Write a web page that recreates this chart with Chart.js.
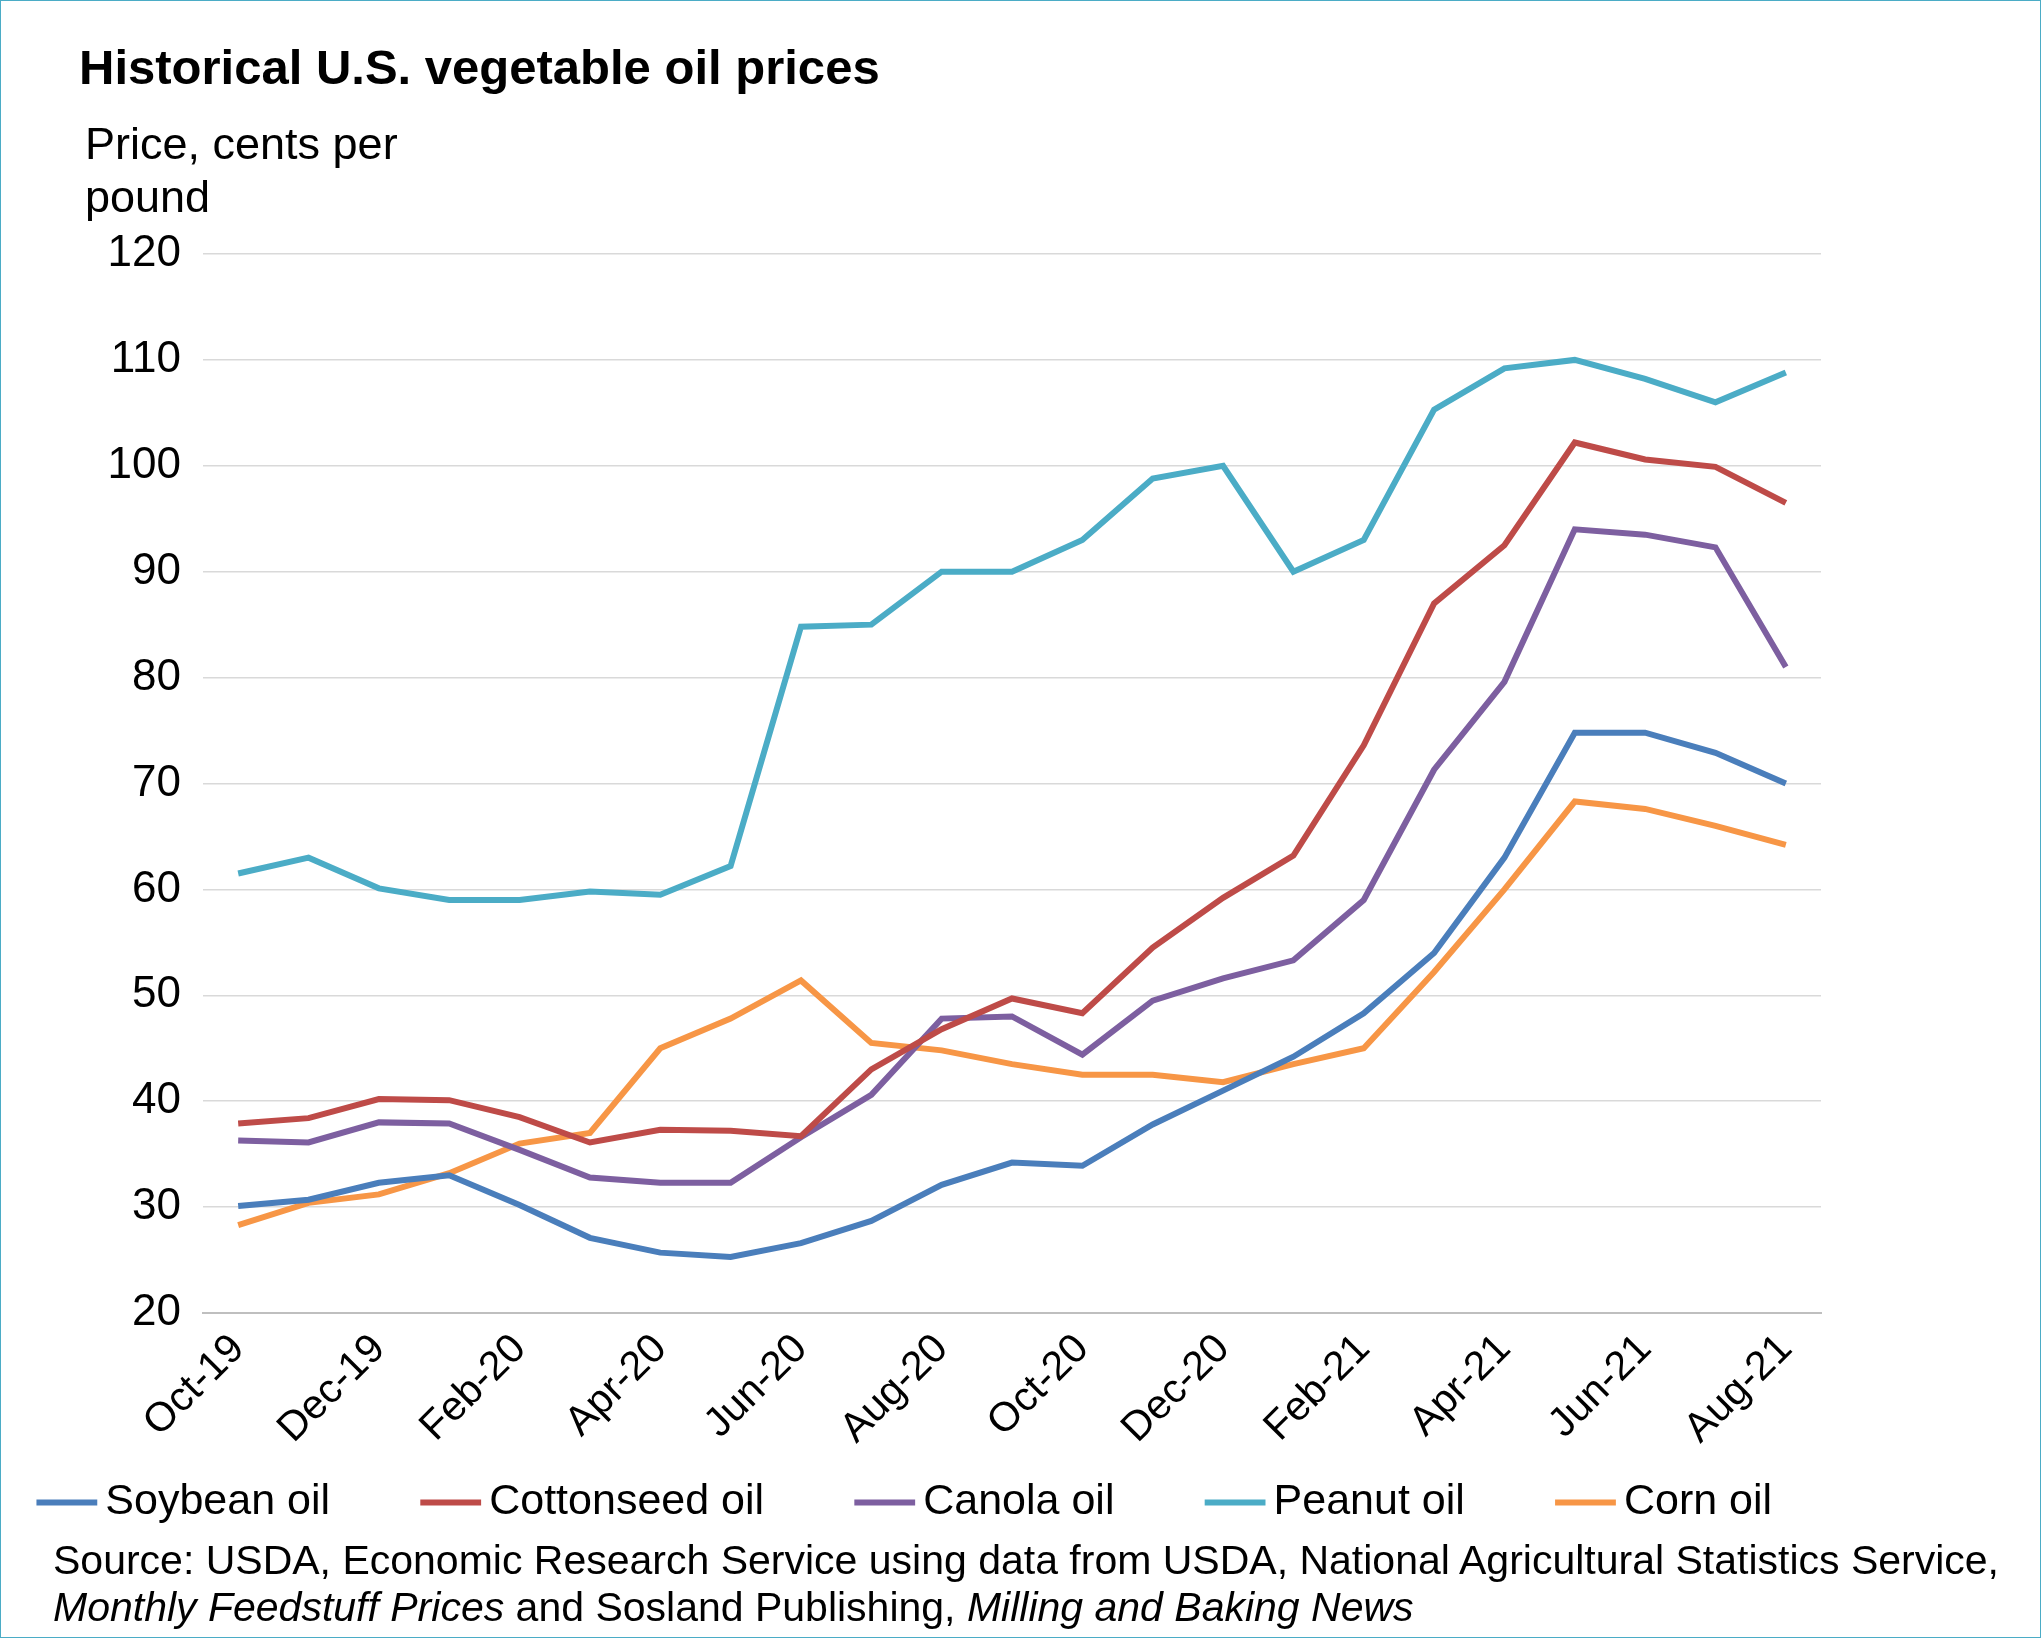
<!DOCTYPE html>
<html><head><meta charset="utf-8">
<script src="https://cdn.jsdelivr.net/npm/chart.js@4/dist/chart.umd.min.js"></script>
<style>
html,body{margin:0;padding:0;background:#fff;}
#wrap{position:relative;width:2039px;height:1636px;border:1px solid #4bacc6;font-family:"Liberation Sans",Arial,sans-serif;overflow:hidden}
#title{position:absolute;left:78px;top:38px;font-size:49px;font-weight:bold;color:#000}
#ylab{position:absolute;left:84px;top:116px;font-size:45px;line-height:53px;color:#000}
#src{position:absolute;left:52px;top:1536px;font-size:41px;line-height:47px;color:#000;white-space:nowrap}
canvas{position:absolute;left:0;top:0}
</style></head><body>
<div id="wrap">
<canvas id="c" width="2039" height="1636"></canvas>
<div id="title">Historical U.S. vegetable oil prices</div>
<div id="ylab">Price, cents per<br>pound</div>
<div id="src">Source: USDA, Economic Research Service using data from USDA, National Agricultural Statistics Service,<br><i>Monthly Feedstuff Prices</i> and Sosland Publishing, <i>Milling and Baking News</i></div>
</div>
<script>
const categories=["Oct-19","Nov-19","Dec-19","Jan-20","Feb-20","Mar-20","Apr-20","May-20","Jun-20","Jul-20","Aug-20","Sep-20","Oct-20","Nov-20","Dec-20","Jan-21","Feb-21","Mar-21","Apr-21","May-21","Jun-21","Jul-21","Aug-21"];
const soybean=[30.1,30.7,32.3,33.0,30.2,27.1,25.7,25.3,26.6,28.7,32.1,34.2,33.9,37.8,41.0,44.2,48.3,54.0,63.0,74.8,74.8,72.9,70.0];
const cottonseed=[37.9,38.4,40.2,40.1,38.5,36.1,37.3,37.2,36.7,43.0,46.8,49.7,48.3,54.5,59.2,63.2,73.6,87.0,92.5,102.2,100.6,99.9,96.5];
const canola=[36.3,36.1,38.0,37.9,35.4,32.8,32.3,32.3,36.6,40.6,47.8,48.0,44.4,49.5,51.6,53.3,59.0,71.3,79.6,94.0,93.5,92.3,81.0];
const peanut=[61.5,63.0,60.1,59.0,59.0,59.8,59.5,62.2,84.8,85.0,90.0,90.0,93.0,98.8,100.0,90.0,93.0,105.3,109.2,110.0,108.2,106.0,108.8];
const corn=[28.3,30.4,31.2,33.2,36.0,37.0,45.0,47.8,51.4,45.5,44.8,43.5,42.5,42.5,41.8,43.5,45.0,52.2,60.0,68.3,67.6,66.0,64.2];
const ds=(l,d,c)=>({label:l,data:d,borderColor:c,backgroundColor:c,borderWidth:6,pointRadius:0,tension:0,fill:false});
new Chart(document.getElementById('c'),{type:'line',
data:{labels:categories,datasets:[ds('Soybean oil',soybean,'#4a7ebb'),ds('Cottonseed oil',cottonseed,'#be4b48'),ds('Canola oil',canola,'#7d5fa0'),ds('Peanut oil',peanut,'#4bacc6'),ds('Corn oil',corn,'#f79646')]},
options:{responsive:false,animation:false,
layout:{padding:{top:253,right:219,bottom:103,left:0}},
plugins:{legend:{position:'bottom',labels:{usePointStyle:true,pointStyle:'line',boxWidth:34,padding:20,color:'#000',font:{family:'Liberation Sans',size:43},
generateLabels(ch){const it=Chart.defaults.plugins.legend.labels.generateLabels(ch);it.forEach((x,i)=>{x.lineWidth=6;if(i<it.length-1)x.text+='       ';});return it;}}},tooltip:{enabled:false}},
scales:{
x:{offset:true,grid:{display:false},border:{color:'#bfbfbf',width:2},
ticks:{color:'#000',minRotation:45,maxRotation:45,padding:4,font:{family:'Liberation Sans',size:41}},
afterFit(s){s.height=148;}},
y:{min:20,max:120,grid:{color:'#d9d9d9',lineWidth:1.5,drawTicks:false},border:{display:false},
ticks:{stepSize:10,color:'#000',padding:22,font:{family:'Liberation Sans',size:44}},
afterFit(s){s.width=202;}}}}});
</script></body></html>
